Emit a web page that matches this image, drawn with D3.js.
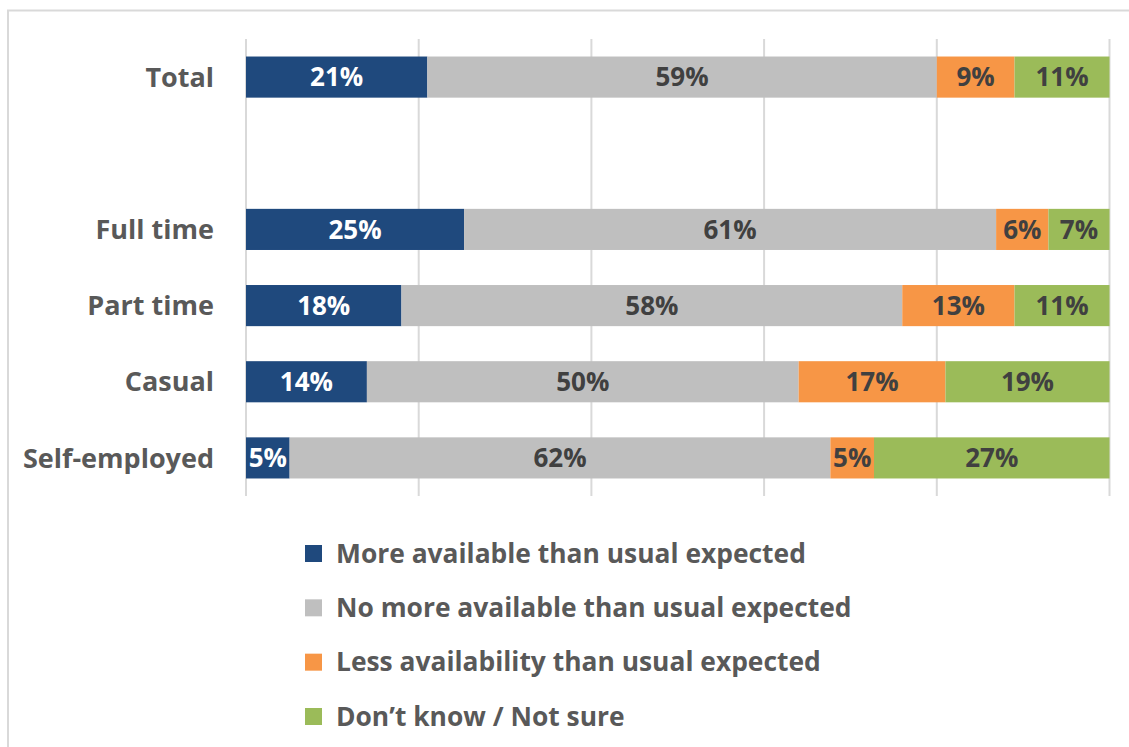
<!DOCTYPE html>
<html>
<head>
<meta charset="utf-8">
<script src="https://cdn.jsdelivr.net/npm/d3@7"></script>
<style>
  html, body { margin: 0; padding: 0; background: #fff; }
  svg { display: block; }
  text { font-family: "Open Sans", Lato, sans-serif; font-weight: 700; }
</style>
</head>
<body>
<svg id="chart" width="1129" height="747"></svg>
<script>
const categories = ["Total", "", "Full time", "Part time", "Casual", "Self-employed"];
const seriesNames = [
  "More available than usual expected",
  "No more available than usual expected",
  "Less availability than usual expected",
  "Don\u2019t know / Not sure"
];
const moreAvailable   = [21, null, 25, 18, 14, 5];
const noMoreAvailable = [59, null, 61, 58, 50, 62];
const lessAvailable   = [9,  null, 6, 13, 17, 5];
const dontKnow        = [11, null, 7, 11, 19, 27];
const xTicks = [0, 0.2, 0.4, 0.6, 0.8, 1.0];
const colors = ["#1F497D", "#BFBFBF", "#F79646", "#9BBB59"];
const labelColors = ["#FFFFFF", "#404040", "#404040", "#404040"];

const seriesValues = [moreAvailable, noMoreAvailable, lessAvailable, dontKnow];
const keys = categories.map((c, i) => "k" + i);
const rows = categories.map((c, i) => {
  const r = { key: keys[i], label: c, empty: seriesValues[0][i] == null };
  seriesValues.forEach((s, j) => r["s" + j] = s[i] == null ? 0 : s[i]);
  return r;
});

const svg = d3.select("#chart");

// outer chart border
svg.append("path")
  .attr("d", "M8,1200 L8,10.5 L1200,10.5")
  .attr("fill", "none").attr("stroke", "#D9D9D9").attr("stroke-width", 2);

const x = d3.scaleLinear().domain([0, 1]).range([246, 1109.5]);
const y = d3.scaleBand().domain(keys).range([39, 496]).paddingInner(0.46).paddingOuter(0.23);

// gridlines
svg.append("g").selectAll("line").data(xTicks).join("line")
  .attr("x1", d => x(d)).attr("x2", d => x(d))
  .attr("y1", 39).attr("y2", 496)
  .attr("stroke", "#D9D9D9").attr("stroke-width", 2);

const stack = d3.stack()
  .keys(seriesValues.map((s, j) => "s" + j))
  .offset(d3.stackOffsetExpand);
const stacked = stack(rows.filter(r => !r.empty));

const g = svg.append("g");
stacked.forEach((layer, j) => {
  const lg = g.append("g");
  lg.selectAll("rect").data(layer).join("rect")
    .attr("x", d => x(d[0]))
    .attr("y", d => y(d.data.key))
    .attr("width", d => x(d[1]) - x(d[0]))
    .attr("height", y.bandwidth())
    .attr("fill", colors[j]);
  lg.selectAll("text").data(layer).join("text")
    .attr("x", d => (x(d[0]) + x(d[1])) / 2)
    .attr("y", d => y(d.data.key) + y.bandwidth() / 2)
    .attr("dy", "0.36em")
    .attr("text-anchor", "middle")
    .attr("font-size", 26)
    .attr("fill", labelColors[j])
    .text(d => d.data["s" + j] + "%");
});

// category labels
svg.append("g").selectAll("text").data(rows).join("text")
  .attr("x", 214)
  .attr("y", d => y(d.key) + y.bandwidth() / 2)
  .attr("dy", "0.36em")
  .attr("text-anchor", "end")
  .attr("font-size", 27)
  .attr("fill", "#595959")
  .text(d => d.label);

// legend
const legendY = d3.scalePoint().domain(seriesNames).range([553, 716]);
const lgd = svg.append("g").selectAll("g").data(seriesNames).join("g")
  .attr("transform", d => `translate(305,${legendY(d)})`);
lgd.append("rect").attr("x", 0).attr("y", -8).attr("width", 17).attr("height", 17)
  .attr("fill", (d, i) => colors[i]);
lgd.append("text").attr("x", 31).attr("dy", "0.36em")
  .attr("font-size", 26.4).attr("fill", "#595959")
  .text(d => d);
</script>
</body>
</html>
